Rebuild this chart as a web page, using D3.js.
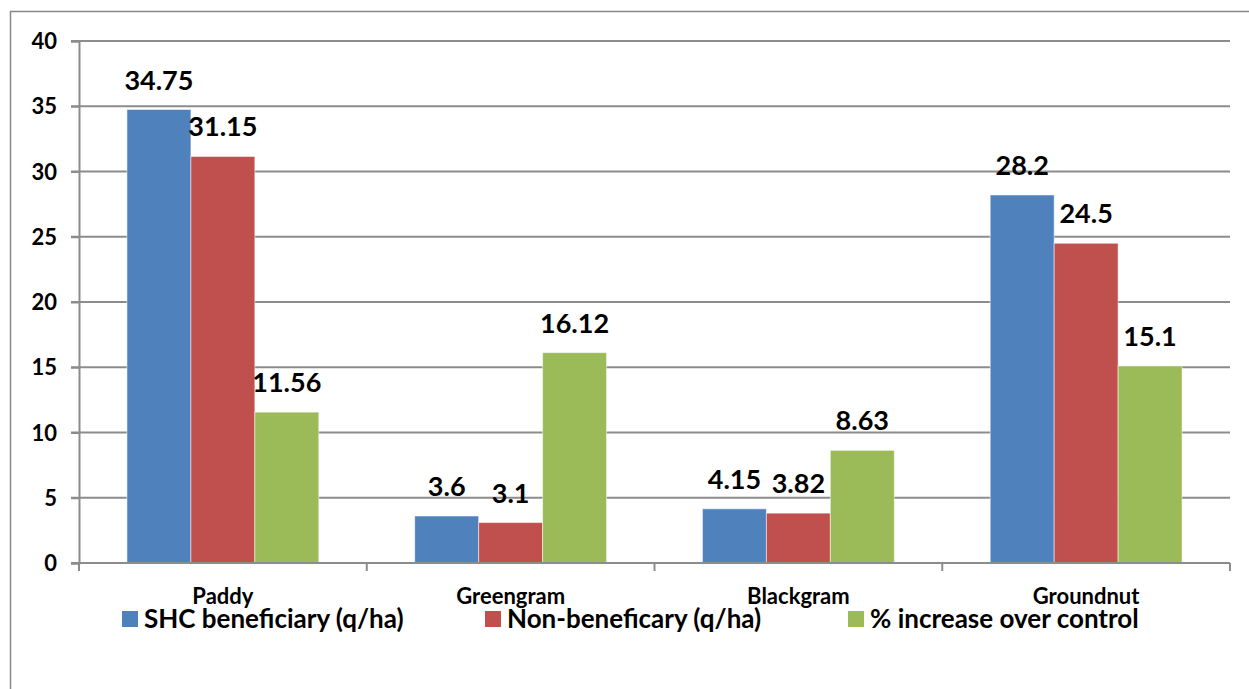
<!DOCTYPE html>
<html>
<head>
<meta charset="utf-8">
<script src="https://cdn.jsdelivr.net/npm/d3@7"></script>
<style>
  body { margin: 0; background: #fff; }
  text { font-family: Lato, "Open Sans", sans-serif; font-weight: bold; fill: #000; }
</style>
</head>
<body>
<svg id="chart" width="1249" height="689"></svg>
<script>
// crops on the x axis
var crops = ["Paddy", "Greengram", "Blackgram", "Groundnut"];
// series
var seriesNames = ["SHC beneficiary (q/ha)", "Non-beneficary (q/ha)", "% increase over control"];
var shcValues = [34.75, 3.6, 4.15, 28.2];
var nonValues = [31.15, 3.1, 3.82, 24.5];
var incValues = [11.56, 16.12, 8.63, 15.1];
var yTicks = [0, 5, 10, 15, 20, 25, 30, 35, 40];

var colors = ["#4F81BD", "#C0504D", "#9BBB59"];
var seriesValues = [shcValues, nonValues, incValues];

var margin = { left: 79, right: 19, top: 41, bottom: 126 },
    width = 1249, height = 689;

var svg = d3.select("#chart");

// outer chart border (only top and left visible)
svg.append("line").attr("x1", 10).attr("x2", width).attr("y1", 11.5).attr("y2", 11.5)
    .style("stroke", "#888").style("stroke-width", 1.5);
svg.append("line").attr("x1", 10.5).attr("x2", 10.5).attr("y1", 11).attr("y2", height)
    .style("stroke", "#888").style("stroke-width", 1.5);

var x0 = d3.scaleBand().domain(crops).range([margin.left, width - margin.right]);
var x1 = d3.scaleBand().domain(d3.range(seriesNames.length))
    .range([x0.bandwidth() / 6, x0.bandwidth() * 5 / 6]);
var y = d3.scaleLinear().domain([0, 40]).range([height - margin.bottom, margin.top]);

// gridlines
svg.append("g").selectAll("line").data(yTicks.filter(function (d) { return d > 0; })).enter()
    .append("line")
    .attr("x1", margin.left - 8).attr("x2", width - margin.right)
    .attr("y1", y).attr("y2", y)
    .style("stroke", "#8c8c8c").style("stroke-width", 2);

// y axis
var yAxis = svg.append("g").attr("transform", "translate(" + margin.left + ",0)")
    .call(d3.axisLeft(y).tickValues(yTicks).tickSize(8).tickPadding(14));
yAxis.select(".domain").style("stroke", "#8c8c8c").style("stroke-width", 2);
yAxis.selectAll(".tick line").style("stroke", "#8c8c8c").style("stroke-width", 2);
yAxis.selectAll("text").style("font-size", "22px").style("font-family", "Lato, sans-serif")
    .style("font-weight", "bold").attr("dy", "0.35em");

// bars
var rows = crops.map(function (c, i) {
    return { crop: c, vals: seriesValues.map(function (s, j) { return { s: j, v: s[i] }; }) };
});
var groups = svg.append("g").selectAll("g").data(rows).enter().append("g")
    .attr("transform", function (d) { return "translate(" + x0(d.crop) + ",0)"; });
groups.selectAll("rect").data(function (d) { return d.vals; }).enter().append("rect")
    .attr("x", function (d) { return x1(d.s); })
    .attr("width", x1.bandwidth())
    .attr("y", function (d) { return y(d.v); })
    .attr("height", function (d) { return y(0) - y(d.v); })
    .style("fill", function (d) { return colors[d.s]; })
    .style("stroke", "rgba(255,255,255,0.5)").style("stroke-width", 1);
groups.selectAll("text").data(function (d) { return d.vals; }).enter().append("text")
    .attr("x", function (d) { return x1(d.s) + x1.bandwidth() / 2; })
    .attr("y", function (d) { return y(d.v) - 20; })
    .attr("text-anchor", "middle")
    .style("font-size", "27px")
    .text(function (d) { return d.v; });

// x axis
var xAxis = svg.append("g").attr("transform", "translate(0," + y(0) + ")")
    .call(d3.axisBottom(x0).tickSize(0).tickPadding(25));
xAxis.select(".domain").remove();
xAxis.append("line").attr("x1", margin.left - 8).attr("x2", width - margin.right)
    .style("stroke", "#8c8c8c").style("stroke-width", 2);
xAxis.selectAll(".sep").data(crops.concat(["end"])).enter().append("line")
    .attr("x1", function (d, i) { return margin.left + i * x0.bandwidth(); })
    .attr("x2", function (d, i) { return margin.left + i * x0.bandwidth(); })
    .attr("y1", 0).attr("y2", 8)
    .style("stroke", "#8c8c8c").style("stroke-width", 2);
xAxis.selectAll(".tick text").style("font-size", "22px").style("font-family", "Lato, sans-serif")
    .style("font-weight", "bold");

// legend
var legend = svg.append("g").selectAll("g").data(seriesNames).enter().append("g")
    .attr("transform", function (d, i) { return "translate(" + (122 + i * 363) + ",611)"; });
legend.append("rect").attr("width", 16).attr("height", 16)
    .style("fill", function (d, i) { return colors[i]; });
legend.append("text").attr("x", 22).attr("y", 17)
    .style("font-size", "26px")
    .text(function (d) { return d; });
</script>
</body>
</html>
